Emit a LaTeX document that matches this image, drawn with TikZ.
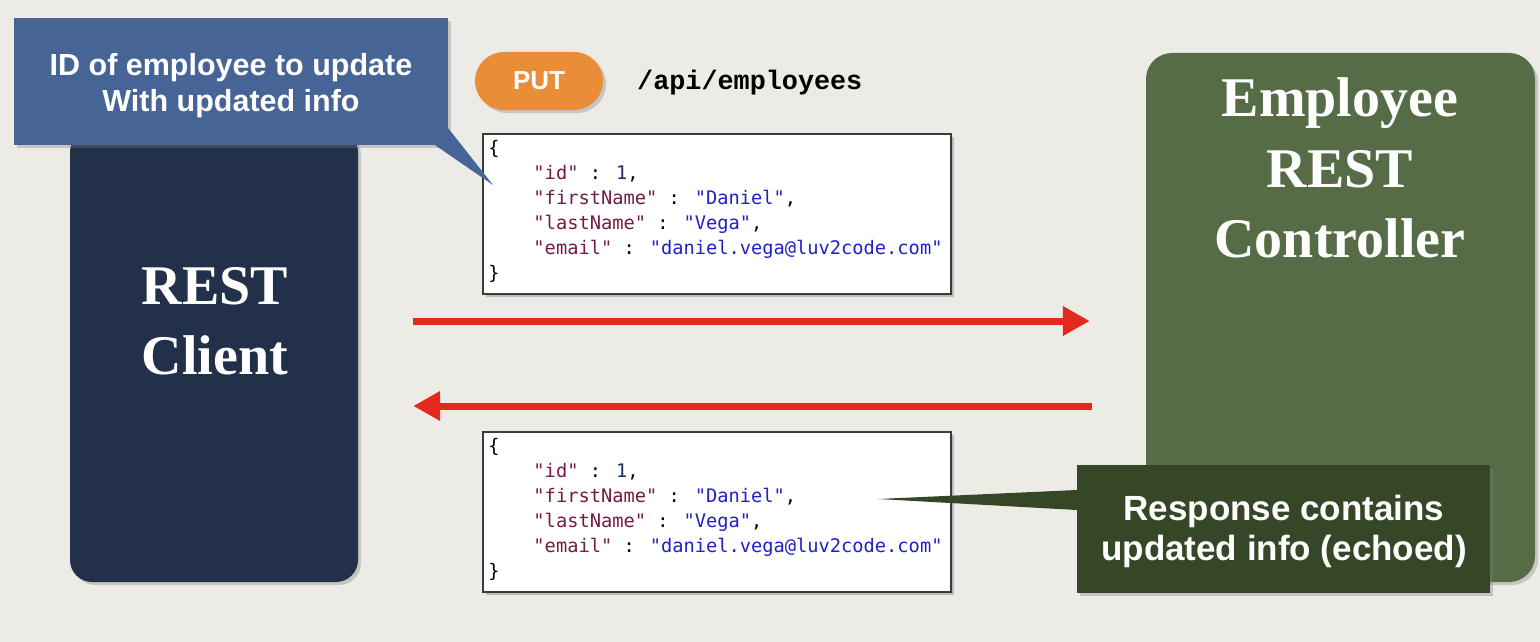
\documentclass[tikz,border=0pt]{standalone}
\usepackage{fontspec}
\setmainfont{Liberation Serif}
\newfontfamily\labelfont{Liberation Sans}
\newfontfamily\codefont{DejaVu Sans Mono}
\newfontfamily\pathfont{Liberation Mono}
\usetikzlibrary{arrows.meta,shadows}

\definecolor{pagebg}{RGB}{237,235,230}
\definecolor{clientnavy}{RGB}{34,48,74}
\definecolor{noteblue}{RGB}{70,101,150}
\definecolor{putorange}{RGB}{233,141,56}
\definecolor{servergreen}{RGB}{86,108,70}
\definecolor{notegreen}{RGB}{54,71,40}
\definecolor{flowred}{RGB}{227,41,29}
\definecolor{jsonkey}{RGB}{118,26,70}
\definecolor{jsonstr}{RGB}{32,32,200}
\definecolor{jsonnum}{RGB}{28,42,110}
\definecolor{boxedge}{RGB}{60,60,60}

% JSON syntax colouring
\newcommand\jk[1]{\textcolor{jsonkey}{#1}}
\newcommand\js[1]{\textcolor{jsonstr}{#1}}
\newcommand\jn[1]{\textcolor{jsonnum}{#1}}
\newcommand\jind{\hphantom{xxxx}}
\newcommand\jsonbody{\{\\
\jind\jk{"id"} : \jn{1},\\
\jind\jk{"firstName"} : \js{"Daniel"},\\
\jind\jk{"lastName"} : \js{"Vega"},\\
\jind\jk{"email"} : \js{"daniel.vega@luv2code.com"}\\
\}}

\tikzset{
  softshadow/.style={drop shadow={opacity=0.35, shadow xshift=3pt, shadow yshift=-3pt}},
  tier/.style={rounded corners=22pt, inner sep=0pt, softshadow},
  tiertext/.style={text=white, font=\bfseries\fontsize{56}{70.5}\selectfont, align=center},
  notebox/.style={inner sep=0pt, softshadow},
  notetext/.style={inner sep=0pt, text=white, align=center},
  jsonbox/.style={draw=boxedge, line width=1.5pt, fill=white, inner sep=0pt,
    minimum width=468pt, minimum height=160pt,
    drop shadow={opacity=0.45, shadow xshift=3pt, shadow yshift=-3pt}},
  jsontext/.style={inner sep=0pt, align=left, anchor=north west,
    font=\codefont\fontsize{18.7}{25}\selectfont},
  flow/.style={draw=flowred, line width=7pt, -{Triangle[length=27pt,width=28pt]}}
}

\begin{document}
\begin{tikzpicture}[x=1pt, y=-1pt]
  % page
  \fill[pagebg] (0,0) rectangle (1540,642);
  \useasboundingbox (0,0) rectangle (1540,642);

  % client and server tiers
  \node[tier, fill=clientnavy, minimum width=288pt, minimum height=452pt]
    (client) at (214,356) {};
  \node[tiertext] (clientlbl) at (215,321) {REST\\Client};

  \node[tier, rounded corners=26pt, fill=servergreen, minimum width=389pt, minimum height=529pt]
    (server) at (1340.5,317.5) {};
  \node[tiertext] (serverlbl) at (1340,168) {Employee\\REST\\Controller};

  % request and response flows
  \draw[flow] ([xshift=55pt]client.east |- 0,321) -- ([xshift=-56pt]server.west |- 0,321);
  \draw[flow] ([xshift=-54pt]server.west |- 0,406) -- ([xshift=55pt]client.east |- 0,406);

  % HTTP method and path
  \node[fill=putorange, rounded corners=29pt, minimum width=128pt, minimum height=58pt,
    inner sep=0pt, text=white, font=\labelfont\bfseries\fontsize{26}{30}\selectfont, softshadow]
    (put) at (539,81) {PUT};
  \node[anchor=west, inner sep=0pt, font=\pathfont\bfseries\fontsize{26.8}{30}\selectfont]
    (path) at (637,83) {/api/employees};

  % request body
  \node[jsonbox] (reqbox) at (717,214) {};
  \node[jsontext] (reqjson) at ([xshift=6pt,yshift=-7pt]reqbox.north west) {\jsonbody};

  % response body
  \node[jsonbox] (respbox) at (717,512) {};
  \node[jsontext] (respjson) at ([xshift=6pt,yshift=-7pt]respbox.north west) {\jsonbody};

  % request note
  \node[notebox, fill=noteblue, minimum width=434pt, minimum height=127pt]
    (reqnote) at (231,81.5) {};
  \node[notetext, font=\labelfont\bfseries\fontsize{30.5}{36}\selectfont]
    (reqnotelbl) at (231,86) {ID of employee to update\\With updated info};
  \coordinate (reqtip) at (493,185);
  \fill[noteblue] ([xshift=-13pt]reqnote.south east) -- (reqtip)
    -- ([yshift=17pt]reqnote.south east) -- cycle;

  % response note
  \coordinate (resptip) at (878,499);
  \node[notebox, fill=notegreen, minimum width=413pt, minimum height=128pt]
    (respnote) at (1283.5,529) {};
  \node[notetext, font=\labelfont\bfseries\fontsize{35}{40}\selectfont]
    (respnotelbl) at (1284,531) {Response contains\\updated info (echoed)};
  \fill[notegreen] (resptip) -- ([yshift=9pt]respnote.west |- resptip)
    -- ([yshift=-11pt]respnote.west |- resptip) -- cycle;
\end{tikzpicture}
\end{document}
